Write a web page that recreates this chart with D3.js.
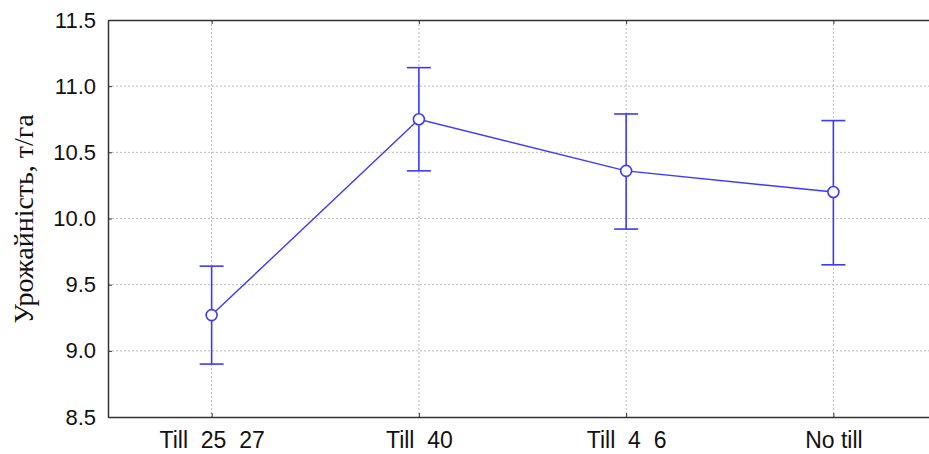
<!DOCTYPE html>
<html>
<head>
<meta charset="utf-8">
<script src="https://cdn.jsdelivr.net/npm/d3@7"></script>
<style>
  body { margin: 0; background: #fff; }
  text { font-family: "Liberation Sans", Arial, sans-serif; }
</style>
</head>
<body>
<svg id="chart" width="929" height="454"></svg>
<script>
const categories = ['Till  25  27', 'Till  40', 'Till  4  6', 'No till'];
const means = [9.27, 10.75, 10.36, 10.20];
const upper = [9.64, 11.14, 10.79, 10.74];
const lower = [8.90, 10.36, 9.92, 9.65];
const yTicks = [8.5, 9.0, 9.5, 10.0, 10.5, 11.0, 11.5];

const svgWidth = 929, svgHeight = 454;
const margin = { top: 20, right: -8, bottom: 37, left: 108 };
const width = svgWidth - margin.left - margin.right;
const height = svgHeight - margin.top - margin.bottom;
const blue = '#3a3aff';

const svg = d3.select('#chart');
const g = svg.append('g')
  .attr('transform', 'translate(' + margin.left + ',' + margin.top + ')');

const xScale = d3.scalePoint()
  .domain(categories)
  .range([0, width])
  .padding(0.5);

const yScale = d3.scaleLinear()
  .domain([8.5, 11.5])
  .range([height, 0]);

// grid
g.append('g').selectAll('line.h')
  .data(yTicks.slice(1, -1))
  .join('line')
  .attr('x1', 0).attr('x2', width)
  .attr('y1', d => yScale(d)).attr('y2', d => yScale(d))
  .attr('stroke', '#bbb').attr('stroke-dasharray', '2,2');

g.append('g').selectAll('line.v')
  .data(categories)
  .join('line')
  .attr('x1', d => xScale(d)).attr('x2', d => xScale(d))
  .attr('y1', 0).attr('y2', height)
  .attr('stroke', '#bbb').attr('stroke-dasharray', '2,2');

// axes
const yAxis = d3.axisLeft(yScale).tickValues(yTicks).tickFormat(d3.format('.1f')).tickSizeInner(-4).tickSizeOuter(0).tickPadding(12);
const yg = g.append('g').call(yAxis);
yg.select('.domain').attr('stroke', '#333').attr('stroke-width', 1.5);
yg.selectAll('.tick line').attr('stroke', '#333');
yg.selectAll('text').attr('font-size', 22).attr('fill', '#111');

const xAxis = d3.axisBottom(xScale).tickSizeInner(-4).tickSizeOuter(0).tickPadding(15);
const xg = g.append('g').attr('transform', 'translate(0,' + height + ')').call(xAxis);
xg.select('.domain').attr('stroke', '#333').attr('stroke-width', 1.5);
xg.selectAll('.tick line').attr('stroke', '#333');
xg.selectAll('text').attr('font-size', 23).attr('fill', '#111').style('white-space', 'pre');

const xTop = d3.axisTop(xScale).tickSizeInner(-4).tickSizeOuter(0).tickFormat('');
const xtg = g.append('g').call(xTop);
xtg.select('.domain').attr('stroke', '#333').attr('stroke-width', 1.5);
xtg.selectAll('.tick line').attr('stroke', '#333');

// y label
svg.append('text')
  .attr('transform', 'translate(33,219) rotate(-90)')
  .attr('text-anchor', 'middle')
  .style('font-family', '"Liberation Serif", "Times New Roman", serif')
  .attr('font-size', 28)
  .attr('fill', '#111')
  .text('Урожайність, т/га');

// error bars
const capW = 12;
const bars = g.append('g');
categories.forEach((c, i) => {
  const x = xScale(c);
  bars.append('line').attr('x1', x).attr('x2', x)
    .attr('y1', yScale(upper[i])).attr('y2', yScale(lower[i]))
    .attr('stroke', blue).attr('stroke-width', 1.6);
  [upper[i], lower[i]].forEach(v => {
    bars.append('line').attr('x1', x - capW).attr('x2', x + capW)
      .attr('y1', yScale(v)).attr('y2', yScale(v))
      .attr('stroke', blue).attr('stroke-width', 1.6);
  });
});

// mean line
const line = d3.line()
  .x((d, i) => xScale(categories[i]))
  .y(d => yScale(d));

g.append('path')
  .datum(means)
  .attr('d', line)
  .attr('fill', 'none')
  .attr('stroke', blue)
  .attr('stroke-width', 1.4);

g.append('g').selectAll('circle')
  .data(means)
  .join('circle')
  .attr('cx', (d, i) => xScale(categories[i]))
  .attr('cy', d => yScale(d))
  .attr('r', 5.5)
  .attr('fill', '#fff')
  .attr('stroke', blue)
  .attr('stroke-width', 1.6);
</script>
</body>
</html>
